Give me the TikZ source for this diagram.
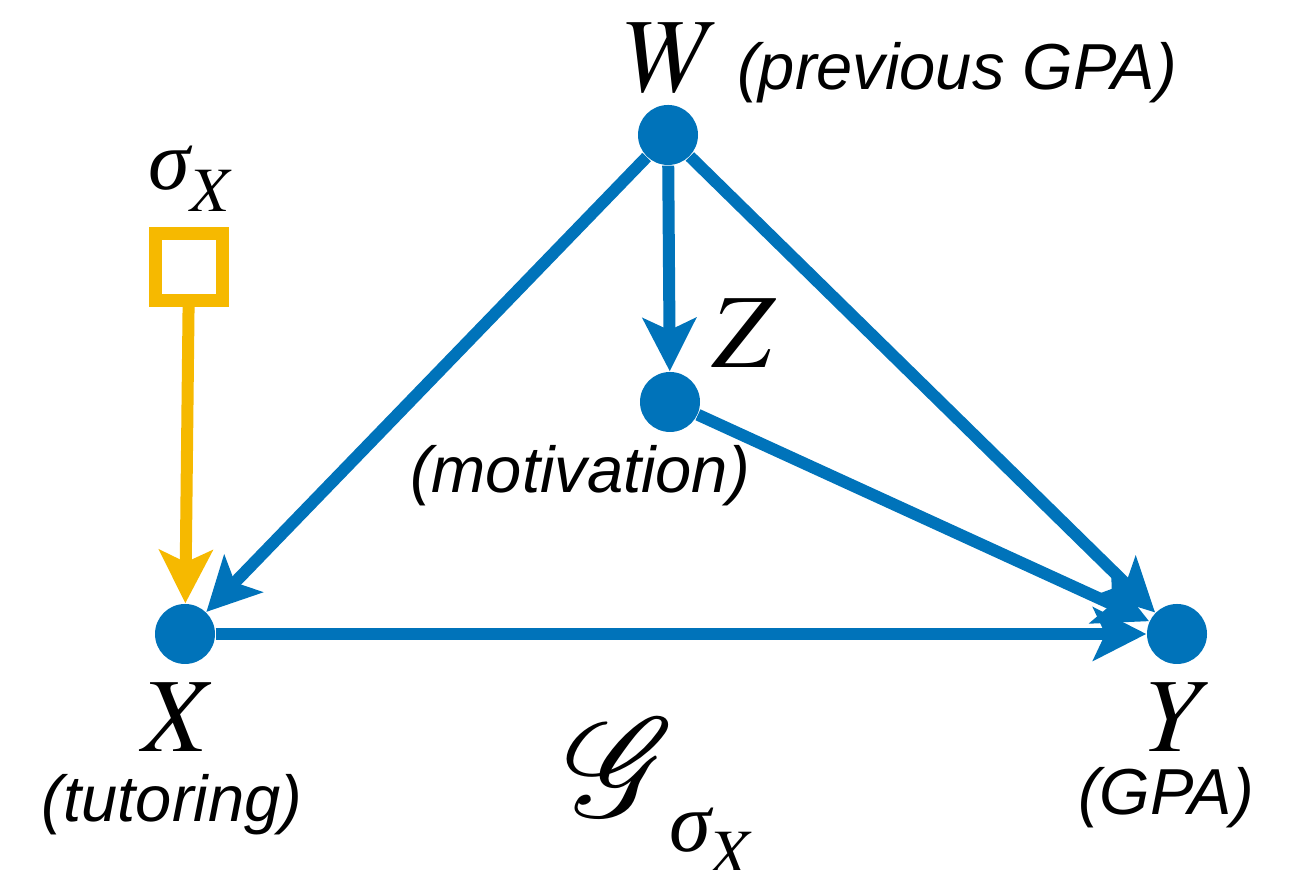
\documentclass[tikz,border=0pt]{standalone}
\usepackage{graphicx}
\usepackage{mathptmx}
\usepackage{mathrsfs}
\usepackage[no-math]{fontspec}
\setsansfont{Liberation Sans}
\newfontfamily\grk{Liberation Serif}
\definecolor{dagblue}{HTML}{0073BA}
\definecolor{dagyellow}{HTML}{F6B900}
\usetikzlibrary{arrows.meta}
\newcommand{\sigX}{{\grk\itshape\fontsize{24}{28}\selectfont σ}%
  \raisebox{-0.22cm}{\fontsize{18}{22}\selectfont$X$}}

\begin{document}
\begin{tikzpicture}[
    v/.style={circle, fill=dagblue, inner sep=0pt, minimum size=0.6cm},
    ctrl/.style={rectangle, draw=dagyellow, line width=0.13cm, inner sep=0pt,
                 minimum size=0.67cm},
    lbl/.style={anchor=base, inner sep=0pt,
                font=\sffamily\itshape\fontsize{18.5}{22}\selectfont},
    var/.style={anchor=base, inner sep=0pt, font=\fontsize{30}{36}\selectfont},
    arr/.style={line width=0.12cm,
                -{Stealth[length=0.53cm, width=0.53cm, inset=0.12cm]}}]
  \useasboundingbox (0,0) rectangle (12.96,8.70);
  % graph
  \node[v] (W) at (6.68,7.35) {};
  \node[v] (Z) at (6.70,4.68) {};
  \node[v] (X) at (1.85,2.36) {};
  \node[v] (Y) at (11.77,2.36) {};
  \node[ctrl] (s) at (1.89,6.03) {};
  \draw[arr, dagblue] (W) -- (Z);
  \draw[arr, dagblue] (W) -- (X);
  \draw[arr, dagblue] (W) -- (Y);
  \draw[arr, dagblue] (Z) -- (Y);
  \draw[arr, dagblue] (X) -- (Y);
  \draw[arr, dagyellow] (s) -- (X);
  % labels
  \node[var] (Wl) at (6.73,7.78) {$W$};
  \node[lbl] (Wt) at (9.57,7.80) {(previous GPA)};
  \node[var] (Zl) at (7.44,5.02) {$Z$};
  \node[lbl] (Zt) at (5.80,3.77) {(motivation)};
  \node[var] (Xl) at (1.80,1.18) {$X$};
  \node[lbl] (Xt) at (1.72,0.48) {(tutoring)};
  \node[var] (Yl) at (11.80,1.18) {$Y$};
  \node[lbl] (Yt) at (11.66,0.55) {(GPA)};
  \node[anchor=base west, inner sep=0pt] (sl) at (1.48,6.80) {\sigX};
  \node[anchor=base west, inner sep=0pt, font=\fontsize{30}{36}\selectfont]
    (G) at (5.65,0.53)
    {\scalebox{1.6}{$\mathscr{G}$}\kern-0.06cm\raisebox{-0.35cm}{\sigX}};
\end{tikzpicture}
\end{document}
